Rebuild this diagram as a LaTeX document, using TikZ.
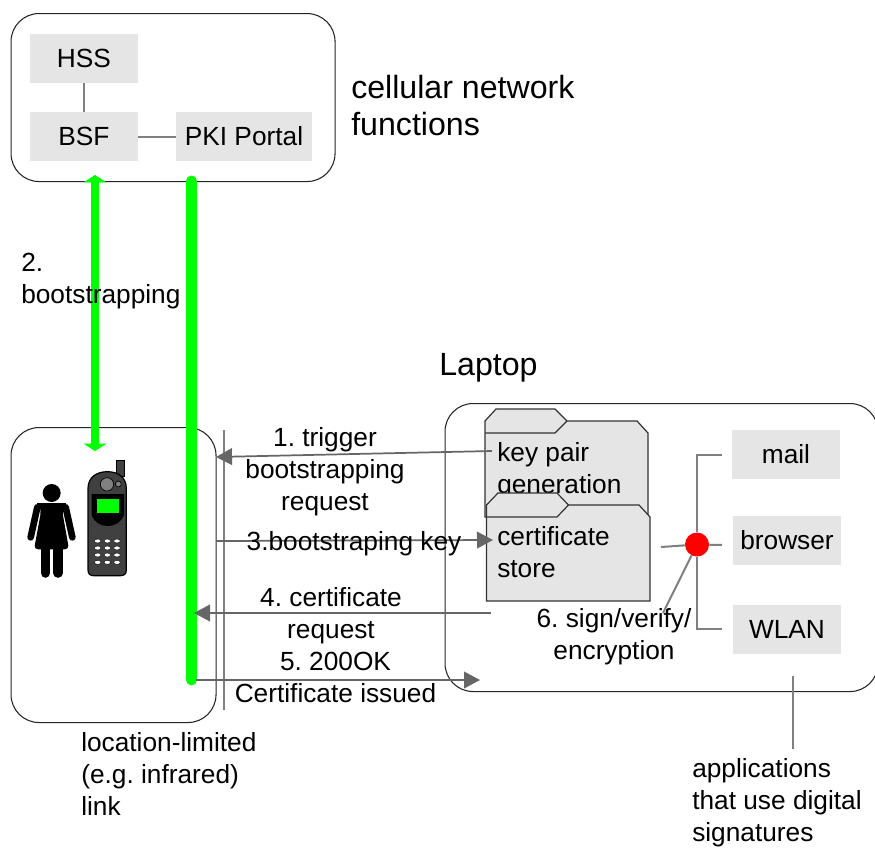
\documentclass[tikz,border=0pt]{standalone}
\usepackage{fontspec}
\setmainfont{Liberation Sans}
\usetikzlibrary{arrows.meta}
\definecolor{boxgray}{RGB}{229,229,229}
\definecolor{linegray}{RGB}{128,128,128}
\definecolor{arrowgray}{RGB}{102,102,102}
\definecolor{brightgreen}{RGB}{0,255,0}
\definecolor{phonegray}{RGB}{64,64,64}
\tikzset{
 x=0.75pt,y=-0.75pt,
 roundbox/.style={draw=black!85,line width=0.8pt,rounded corners=21pt,inner sep=0pt,anchor=north west},
 appbox/.style={fill=boxgray,draw=none,inner sep=0pt,minimum width=81pt,minimum height=36.75pt,font=\fontsize{19.7}{24}\selectfont},
 lab/.style={align=center,font=\fontsize{19.7}{24}\selectfont\frenchspacing,inner sep=0pt},
 labl/.style={align=left,font=\fontsize{19.7}{24}\selectfont\frenchspacing,inner sep=0pt},
 biglab/.style={align=left,font=\fontsize{24.1}{27.9}\selectfont,inner sep=0pt},
 thingray/.style={draw=linegray,line width=1.5pt},
 flow/.style={draw=arrowgray,line width=1.3pt,-{Triangle[length=12pt,width=12.5pt]}},
 greenline/.style={draw=brightgreen,line width=6.6pt},
 greenbar/.style={draw=brightgreen,line width=8.2pt,line cap=round},
 folder/.style={draw=black!80,line width=0.9pt,fill=boxgray,line join=miter},
}
\begin{document}
\begin{tikzpicture}
\useasboundingbox (0,0) rectangle (875,847);
\fill[white] (0,0) rectangle (875,847);
% named free ends
\coordinate (g1a) at (95,175);
\coordinate (g1b) at (95,451);
\coordinate (g2a) at (191.5,181);
\coordinate (g2b) at (191.5,680);
\coordinate (v1) at (224,430);
\coordinate (v2) at (224,710);
\coordinate (a1s) at (492,451);
\coordinate (a1e) at (216,457);
\coordinate (a3s) at (216,541);
\coordinate (a3e) at (493,540);
\coordinate (a4s) at (491,613);
\coordinate (a4e) at (194,613);
\coordinate (a5s) at (196,680);
\coordinate (a5e) at (480,680);
\coordinate (r1) at (661,547);
\coordinate (r2) at (722,545);
\coordinate (r3) at (722,454.5);
\coordinate (r4) at (722,628.5);
\coordinate (r5) at (663,613);
\coordinate (ap1) at (793,676);
\coordinate (ap2) at (793,749);
% containers
\node[roundbox,minimum width=243pt,minimum height=126pt] (net) at (10.5,13) {};
\node[roundbox,minimum width=153.75pt,minimum height=221.25pt] (dev) at (10.5,427) {};
\node[roundbox,minimum width=324.75pt,minimum height=216pt] (lap) at (444.5,403) {};
% network boxes
\node[appbox] (hss) at (84,58.5) {HSS};
\node[appbox] (bsf) at (84,136.5) {BSF};
\node[appbox,minimum width=102pt] (pki) at (244,136.5) {PKI Portal};
\draw[thingray] (hss) -- (bsf);
\draw[thingray] (bsf) -- (pki);
\node[biglab,anchor=north west] (cell) at (351,75) {cellular network\\functions};
\node[biglab,anchor=west] (laptop) at (439,368) {Laptop};
% green links
\draw[greenline,{Triangle[length=5.5pt,width=17pt]}-{Triangle[length=5.5pt,width=17pt]}] (g1a) -- (g1b);
\draw[greenbar] (g2a) -- (g2b);
% vertical link marker
\draw[thingray] (v1) -- (v2);
% woman (coordinates of a 3x enlarged crop)
\begin{scope}[shift={(0,420)},x=0.25pt,y=-0.25pt]
 \fill (155,219) circle [radius=27];
 \fill[rounded corners=3pt] (118,252) -- (192,252) -- (187,275) -- (207,388) -- (102,388) -- (123,275) -- cycle;
 \draw[line width=5pt,line cap=round] (112,262) -- (92,352);
 \draw[line width=5pt,line cap=round] (197,262) -- (217,352);
 \draw[line width=3.6pt] (112,256) -- (197,256);
 \draw[line width=7.2pt,line cap=round] (136,385) -- (136,459);
 \draw[line width=7.2pt,line cap=round] (174,385) -- (174,459);
 % phone
 \fill[phonegray,draw=black,line width=0.6pt] (350,120) rectangle (372,170);
 \fill[phonegray,draw=black,line width=0.9pt] (264,205) .. controls (264,172) and (290,155) .. (322,155) .. controls (354,155) and (379,172) .. (379,205) -- (379,450) .. controls (379,462) and (372,467) .. (362,467) -- (281,467) .. controls (271,467) and (264,462) .. (264,450) -- cycle;
 \fill[black] (275,222) -- (372,222) -- (372,285) .. controls (362,308) and (345,318) .. (323,318) .. controls (301,318) and (284,308) .. (275,285) -- cycle;
 \fill[brightgreen] (290,238) rectangle (357,279);
 \filldraw[fill=linegray,draw=black,line width=0.5pt] (321,193) circle [radius=20];
 \filldraw[fill=linegray,draw=black,line width=0.5pt] (355,192) circle [radius=9];
 \foreach \ky in {363,384,405,427} \foreach \kx in {293,322,351}
  \filldraw[fill=white,draw=black,line width=0.3pt] (\kx,\ky) ellipse [x radius=10,y radius=6];
\end{scope}
% folders
\draw[folder] (648,517) -- (648,433) -- (637,421) -- (567,421) -- (555,409) -- (496,409) -- (485,421) -- (485,517) -- cycle;
\draw[folder] (485,433) -- (555,433) -- (567,421);
\node[labl,anchor=north west] (keyp) at (497,442.5) {key pair\\generation};
\draw[folder] (486.5,601) -- (486.5,505) -- (498,493) -- (557,493) -- (568.5,505) -- (639,505) -- (650,517) -- (650,601) -- cycle;
\draw[folder] (486.5,517) -- (557,517) -- (568.5,505);
\node[labl,anchor=north west] (cert) at (497,526.5) {certificate\\store};
% applications
\node[appbox] (mail) at (786,454.5) {mail};
\node[appbox] (browser) at (787,540.5) {browser};
\node[appbox] (wlan) at (787,629.5) {WLAN};
\node[circle,fill=red,minimum size=18pt,inner sep=0pt] (hub) at (697,544.5) {};
\draw[thingray] (r1) -- (hub);
\draw[thingray] (hub) -- (r2);
\draw[thingray] (hub) -- (hub |- r3) -- (r3);
\draw[thingray] (hub) -- (hub |- r4) -- (r4);
\draw[thingray] (hub) -- (r5);
\draw[thingray] (ap1) -- (ap2);
% flows
\draw[flow] (a1s) -- (a1e);
\draw[flow] (a3s) -- (a3e);
\draw[flow] (a4s) -- (a4e);
\draw[flow] (a5s) -- (a5e);
% labels
\node[labl,anchor=north west] (l2) at (21,253) {2.\\bootstrapping};
\node[lab] (l1) at (325,472) {1. trigger\\bootstrapping\\request};
\node[lab] (l3) at (354,544) {3.bootstraping key};
\node[lab] (l4) at (331,616) {4. certificate\\request};
\node[lab] (l5) at (335.5,677.5) {5. 200OK\\Certificate issued};
\node[lab] (l6) at (614,637) {6. sign/verify/\\encryption};
\node[labl,anchor=north west] (l7) at (81,732) {location-limited\\(e.g. infrared)\\link};
\node[labl,anchor=north west] (l8) at (692,758) {applications\\that use digital\\signatures};
\end{tikzpicture}
\end{document}
